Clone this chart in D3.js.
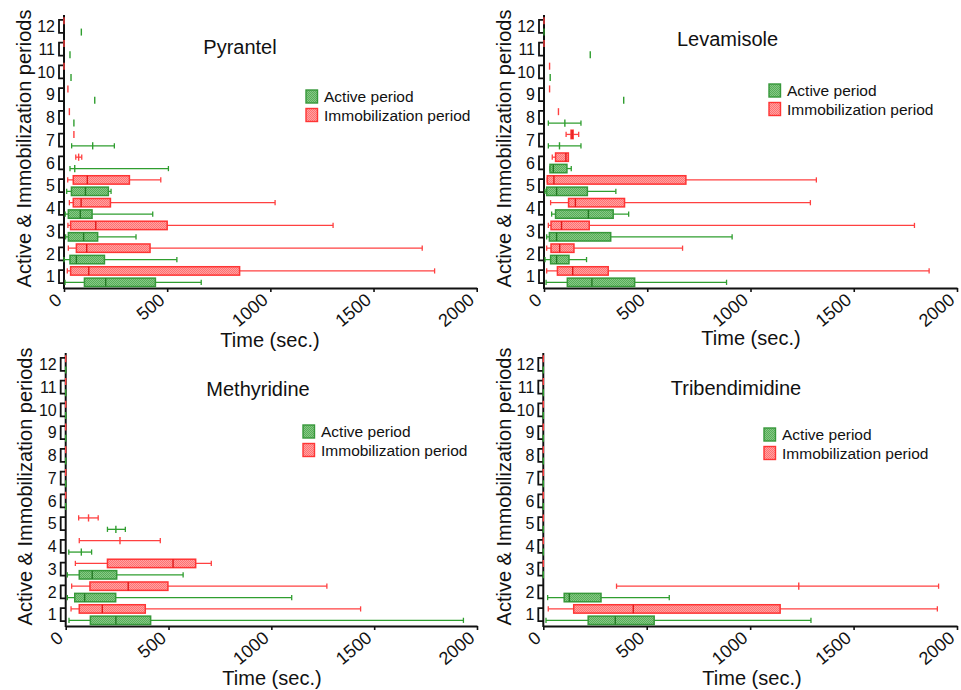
<!DOCTYPE html>
<html><head><meta charset="utf-8">
<script src="https://cdn.jsdelivr.net/npm/d3@7"></script>
<style>body{margin:0;background:#fff}svg{display:block;font-family:Arial,"Liberation Sans",sans-serif}</style>
</head><body><svg id="c" width="961" height="690"></svg>
<script>
// ---------- data ----------
const periodLabels = ["1","2","3","4","5","6","7","8","9","10","11","12"];
const timeTicks = [0, 500, 1000, 1500, 2000];
const seriesNames = ["Active period", "Immobilization period"];
const drugNames = ["Pyrantel", "Levamisole", "Methyridine", "Tribendimidine"];
const axisTitleX = "Time (sec.)";
const axisTitleY = "Active & Immobilization periods";

// each row: [min, q1, median, q3, max] for periods 1..12 (seconds)
const pyrantelActive = [
  [5, 99, 202, 443, 665], [0, 29, 60, 196, 547], [8, 21, 95, 163, 349],
  [6, 21, 79, 136, 430], [13, 36, 104, 215, 228], [29, 52, 52, 52, 506],
  [37, 139, 139, 139, 244], [48, 48, 48, 48, 48], [149, 149, 149, 149, 149],
  [34, 34, 34, 34, 34], [29, 29, 29, 29, 29], [84, 84, 84, 84, 84]
];
const pyrantelImmob = [
  [16, 32, 120, 851, 1796], [21, 60, 110, 417, 1736], [19, 32, 154, 500, 1304],
  [26, 45, 83, 225, 1023], [18, 45, 113, 317, 469], [57, 71, 71, 71, 86],
  [48, 48, 48, 48, 48], [26, 26, 26, 26, 26], [19, 19, 19, 19, 19],
  [0, 0, 0, 0, 0], [0, 0, 0, 0, 0], [0, 0, 0, 0, 0]
];
const levamisoleActive = [
  [10, 113, 232, 439, 884], [5, 32, 61, 121, 206], [13, 26, 61, 323, 911],
  [37, 56, 215, 335, 410], [5, 13, 61, 210, 348], [29, 29, 45, 111, 132],
  [21, 75, 75, 75, 179], [21, 101, 101, 101, 179], [386, 386, 386, 386, 386],
  [30, 30, 30, 30, 30], [224, 224, 224, 224, 224], [0, 0, 0, 0, 0]
];
const levamisoleImmob = [
  [13, 65, 139, 311, 1865], [13, 34, 76, 145, 671], [21, 34, 85, 219, 1794],
  [32, 119, 152, 390, 1290], [16, 16, 48, 687, 1319], [40, 56, 106, 118, 118],
  [107, 131, 136, 141, 168], [70, 70, 70, 70, 70], [27, 27, 27, 27, 27],
  [27, 27, 27, 27, 27], [0, 0, 0, 0, 0], [0, 0, 0, 0, 0]
];
const methyridineActive = [
  [16, 120, 244, 413, 1934], [8, 44, 92, 243, 1099], [8, 66, 129, 248, 571],
  [15, 76, 76, 76, 126], [203, 244, 244, 244, 290], [0, 0, 0, 0, 0],
  [0, 0, 0, 0, 0], [0, 0, 0, 0, 0], [0, 0, 0, 0, 0],
  [0, 0, 0, 0, 0], [0, 0, 0, 0, 0], [0, 0, 0, 0, 0]
];
const methyridineImmob = [
  [26, 66, 178, 387, 1434], [29, 118, 304, 497, 1270], [47, 203, 522, 632, 708],
  [66, 264, 264, 264, 460], [63, 111, 111, 111, 158], [0, 0, 0, 0, 0],
  [0, 0, 0, 0, 0], [0, 0, 0, 0, 0], [0, 0, 0, 0, 0],
  [0, 0, 0, 0, 0], [0, 0, 0, 0, 0], [0, 0, 0, 0, 0]
];
const tribendimidineActive = [
  [13, 217, 348, 536, 1294], [21, 101, 126, 279, 609], [0, 0, 0, 0, 0],
  [0, 0, 0, 0, 0], [0, 0, 0, 0, 0], [0, 0, 0, 0, 0],
  [0, 0, 0, 0, 0], [0, 0, 0, 0, 0], [0, 0, 0, 0, 0],
  [0, 0, 0, 0, 0], [0, 0, 0, 0, 0], [0, 0, 0, 0, 0]
];
const tribendimidineImmob = [
  [24, 147, 435, 1145, 1905], [354, 1235, 1235, 1235, 1911], [0, 0, 0, 0, 0],
  [0, 0, 0, 0, 0], [0, 0, 0, 0, 0], [0, 0, 0, 0, 0],
  [0, 0, 0, 0, 0], [0, 0, 0, 0, 0], [0, 0, 0, 0, 0],
  [0, 0, 0, 0, 0], [0, 0, 0, 0, 0], [0, 0, 0, 0, 0]
];

// ---------- layout / style ----------
const panels = [
  {name: drugNames[0], active: pyrantelActive, immob: pyrantelImmob,
   x0: 64, x1: 476.7, top: 15, bottom: 288, title: [240, 54], legend: [306, 90], yTitleX: 31, xTitle: [270, 347]},
  {name: drugNames[1], active: levamisoleActive, immob: levamisoleImmob,
   x0: 544, x1: 957, top: 15, bottom: 288, title: [727.5, 46], legend: [769, 84], yTitleX: 511, xTitle: [751, 345]},
  {name: drugNames[2], active: methyridineActive, immob: methyridineImmob,
   x0: 65.7, x1: 477, top: 353, bottom: 626, title: [258, 396], legend: [303, 425], yTitleX: 32, xTitle: [272, 685]},
  {name: drugNames[3], active: tribendimidineActive, immob: tribendimidineImmob,
   x0: 543.3, x1: 957, top: 353, bottom: 626, title: [736, 395], legend: [764, 428], yTitleX: 511, xTitle: [752, 685]}
];
const green = {line: "#2f9e2f", stroke: "#37983a", fill: "url(#patG)", med: "#257a25"};
const red = {line: "#ff4040", stroke: "#ff3535", fill: "url(#patR)", med: "#e01a1a"};

const svg = d3.select("#c");
const defs = svg.append("defs");
function pattern(id, base, dot) {
  const p = defs.append("pattern").attr("id", id).attr("patternUnits", "userSpaceOnUse")
    .attr("width", 2).attr("height", 2);
  p.append("rect").attr("width", 2).attr("height", 2).attr("fill", base);
  p.append("rect").attr("width", 1).attr("height", 1).attr("fill", dot);
  p.append("rect").attr("x", 1).attr("y", 1).attr("width", 1).attr("height", 1).attr("fill", dot);
}
pattern("patG", "#86c986", "#58ac58");
pattern("patR", "#ffa3a3", "#ff7070");

function drawSeries(g, x, y, data, off, col) {
  data.forEach((d, i) => {
    const yc = y(i + 1) + off;
    const [mn, q1, md, q3, mx] = d;
    if (mn === mx) {
      g.append("line").attr("x1", x(mn)).attr("x2", x(mn)).attr("y1", yc - 3.5).attr("y2", yc + 3.5)
        .attr("stroke", col.line).attr("stroke-width", 1.4);
      return;
    }
    g.append("line").attr("x1", x(mn)).attr("x2", x(mx)).attr("y1", yc).attr("y2", yc)
      .attr("stroke", col.line).attr("stroke-width", 1.3);
    [mn, mx].forEach(v => g.append("line").attr("x1", x(v)).attr("x2", x(v))
      .attr("y1", yc - 2.6).attr("y2", yc + 2.6).attr("stroke", col.line).attr("stroke-width", 1.3));
    if (q3 > q1) {
      g.append("rect").attr("x", x(q1)).attr("y", yc - 4.2).attr("width", x(q3) - x(q1)).attr("height", 8.4)
        .attr("fill", col.fill).attr("stroke", col.stroke).attr("stroke-width", 1.5);
      g.append("line").attr("x1", x(md)).attr("x2", x(md)).attr("y1", yc - 4.2).attr("y2", yc + 4.2)
        .attr("stroke", col.med).attr("stroke-width", 1.4);
    } else {
      g.append("line").attr("x1", x(md)).attr("x2", x(md)).attr("y1", yc - 3.6).attr("y2", yc + 3.6)
        .attr("stroke", col.line).attr("stroke-width", 1.4);
    }
  });
}

panels.forEach(p => {
  const g = svg.append("g");
  const x = d3.scaleLinear().domain([0, 2000]).range([p.x0, p.x1]);
  const y = d3.scaleLinear().domain([0.5, 12.5]).range([p.bottom, p.top]);

  // x axis
  const xa = g.append("g").attr("transform", `translate(0,${p.bottom})`)
    .call(d3.axisBottom(x).tickValues(timeTicks).tickFormat(d3.format("d")).tickSize(4).tickSizeOuter(0));
  xa.select(".domain").attr("stroke", "#111").attr("stroke-width", 2);
  xa.selectAll(".tick line").attr("stroke", "#111").attr("stroke-width", 1.6);
  xa.selectAll(".tick text").attr("font-size", 18).attr("fill", "#111")
    .attr("font-family", "Arial, 'Liberation Sans', sans-serif")
    .attr("text-anchor", "end").attr("y", 0).attr("dy", "0.72em")
    .attr("transform", "translate(-10,4) rotate(-40)");

  // y axis (labels only) + brackets
  const ya = g.append("g").attr("transform", `translate(${p.x0},0)`)
    .call(d3.axisLeft(y).tickValues(d3.range(1, 13)).tickFormat((d, i) => periodLabels[i]).tickSize(0).tickPadding(9));
  ya.select(".domain").remove();
  ya.selectAll(".tick text").attr("font-size", 16).attr("fill", "#111")
    .attr("font-family", "Arial, 'Liberation Sans', sans-serif");
  d3.range(1, 13).forEach(k => {
    const c = y(k);
    g.append("path").attr("d", `M${p.x0},${c - 6.5}H${p.x0 - 5}V${c + 6.5}H${p.x0}`)
      .attr("fill", "none").attr("stroke", "#111").attr("stroke-width", 1.8);
  });
  g.append("line").attr("x1", p.x0).attr("x2", p.x0).attr("y1", p.top).attr("y2", p.bottom + 1)
    .attr("stroke", "#111").attr("stroke-width", 2);

  // boxes
  drawSeries(g, x, y, p.immob, -5.7, red);
  drawSeries(g, x, y, p.active, 5.7, green);

  // titles
  g.append("text").attr("x", p.title[0]).attr("y", p.title[1]).attr("text-anchor", "middle")
    .attr("font-size", 20).attr("fill", "#111").text(p.name);
  g.append("text").attr("x", p.xTitle[0]).attr("y", p.xTitle[1]).attr("text-anchor", "middle")
    .attr("font-size", 20).attr("fill", "#111").text(axisTitleX);
  g.append("text").attr("transform", `translate(${p.yTitleX},${(p.top + p.bottom) / 2 - 3}) rotate(-90)`)
    .attr("text-anchor", "middle").attr("font-size", 20).attr("fill", "#111").text(axisTitleY);

  // legend
  [[green, seriesNames[0]], [red, seriesNames[1]]].forEach(([col, label], i) => {
    const ly = p.legend[1] + i * 18.5;
    g.append("rect").attr("x", p.legend[0]).attr("y", ly).attr("width", 11.5).attr("height", 13)
      .attr("fill", col.fill).attr("stroke", col.stroke).attr("stroke-width", 1.4);
    g.append("text").attr("x", p.legend[0] + 18).attr("y", ly + 12).attr("font-size", 15.5)
      .attr("fill", "#111").text(label);
  });
});
</script>
</body></html>
